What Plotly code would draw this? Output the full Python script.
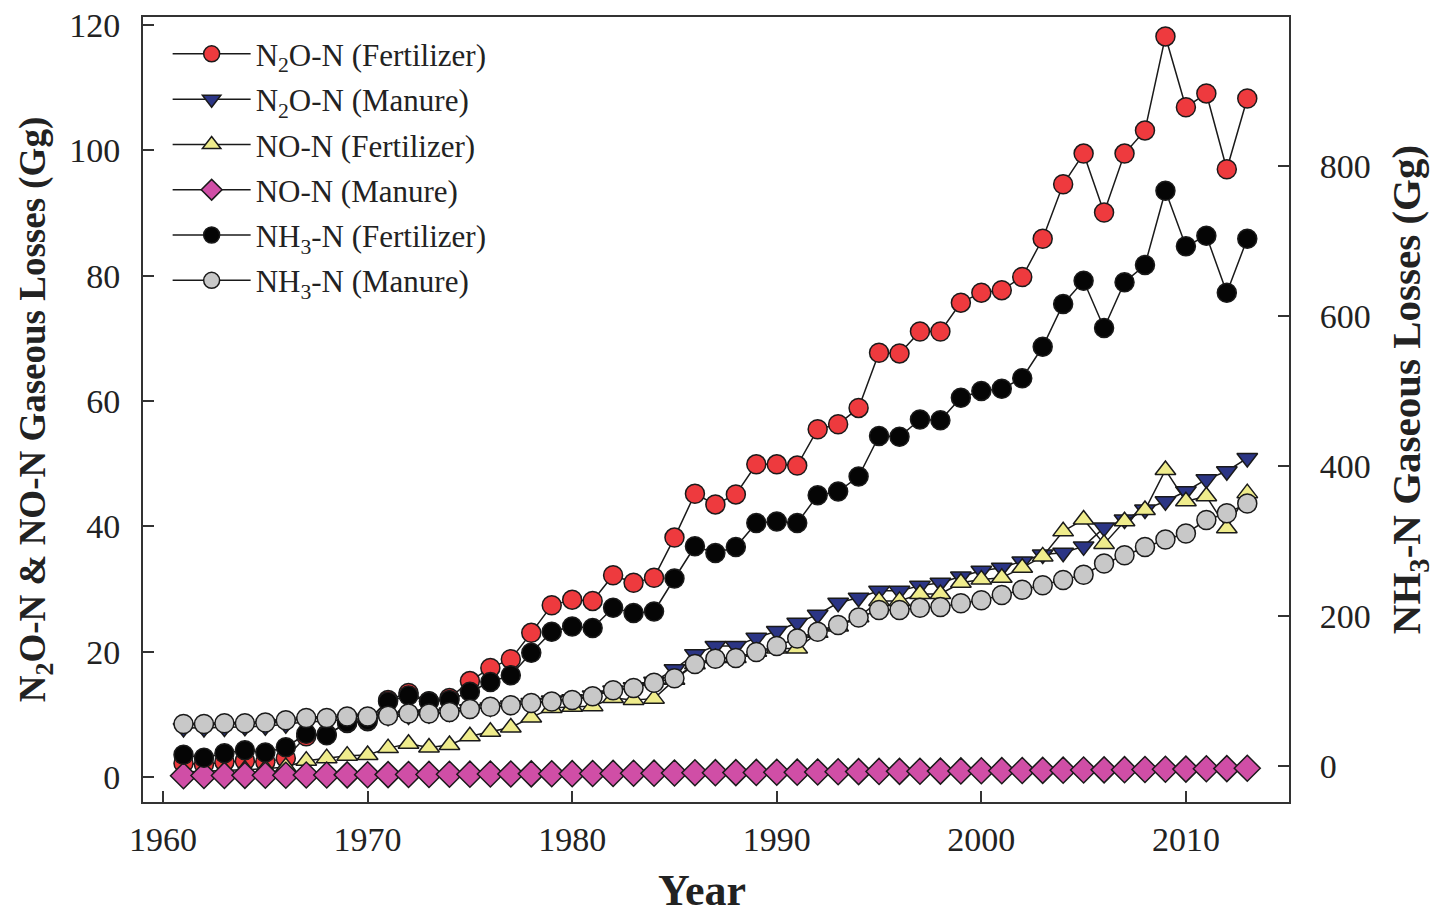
import plotly.graph_objects as go

years = list(range(1961, 2014))

n2o_fert = [2.2, 2.0, 2.4, 2.6, 2.4, 3.0, 6.5, 6.8, 8.6, 8.9, 12.3, 13.4, 12.1, 12.6, 15.3,
            17.4, 18.8, 23.0, 27.4, 28.3, 28.1, 32.2, 31.0, 31.8, 38.2, 45.2, 43.5, 45.1, 49.9, 49.9,
            49.7, 55.5, 56.3, 58.9, 67.7, 67.6, 71.1, 71.1, 75.7, 77.3, 77.7, 79.8, 85.9, 94.6,
            99.5, 90.1, 99.5, 103.2, 118.2, 106.9, 109.1, 97.0, 108.3]

n2o_manure = [7.8, 7.8, 7.9, 8.0, 8.1, 8.4, 8.8, 8.9, 9.2, 9.3, 9.6, 9.8, 10.0, 10.3, 10.8,
              11.1, 11.4, 11.8, 12.2, 12.4, 13.0, 13.8, 14.3, 15.2, 17.2, 19.6, 20.9, 20.9, 22.2, 23.3,
              24.6, 25.9, 27.8, 28.6, 29.7, 29.7, 30.5, 31.0, 32.0, 32.9, 33.4, 34.4, 35.5, 35.8,
              36.8, 39.8, 41.1, 42.7, 44.0, 45.6, 47.5, 48.8, 50.9]

no_fert = [0.8, 0.9, 1.0, 1.2, 1.3, 1.6, 2.6, 3.0, 3.4, 3.5, 4.6, 5.3, 4.7, 5.1, 6.5,
           7.2, 7.9, 9.5, 11.0, 11.2, 11.3, 12.6, 12.3, 12.5, 15.5, 18.0, 19.0, 19.0, 20.0, 20.5,
           20.5, 23.0, 24.0, 25.5, 28.1, 28.1, 29.2, 29.2, 31.0, 31.5, 31.8, 33.4, 35.2, 39.2,
           41.1, 37.2, 40.8, 42.6, 49.0, 44.0, 44.8, 39.7, 45.3]

no_manure = [0.20, 0.22, 0.23, 0.25, 0.26, 0.28, 0.30, 0.31, 0.33, 0.35, 0.37, 0.39, 0.40, 0.42, 0.44,
             0.46, 0.47, 0.49, 0.51, 0.52, 0.54, 0.56, 0.58, 0.60, 0.63, 0.66, 0.68, 0.69, 0.72, 0.74,
             0.76, 0.79, 0.82, 0.85, 0.88, 0.89, 0.91, 0.93, 0.96, 0.98, 1.00, 1.02, 1.05, 1.08,
             1.10, 1.13, 1.16, 1.19, 1.22, 1.25, 1.30, 1.33, 1.38]

nh3_fert = [15, 11, 17, 21, 18, 25, 43, 41, 58, 61, 86, 94, 86, 88, 99,
            112, 121, 151, 179, 186, 184, 211, 204, 206, 250, 293, 284, 292, 324, 326,
            324, 361, 366, 386, 440, 439, 462, 461, 491, 500, 503, 517, 559, 616,
            647, 584, 645, 668, 767, 693, 707, 631, 703]

nh3_manure = [56, 56, 57, 57, 58, 61, 64, 64, 66, 66, 67, 70, 70, 72, 76,
              79, 81, 84, 86, 88, 93, 101, 104, 111, 117, 136, 143, 144, 152, 160,
              170, 179, 188, 198, 208, 208, 211, 212, 217, 221, 228, 235, 241, 248,
              255, 270, 281, 292, 302, 310, 328, 337, 350]

x_ticks = [1960, 1970, 1980, 1990, 2000, 2010]
left_ticks = [0, 20, 40, 60, 80, 100, 120]
right_ticks = [0, 200, 400, 600, 800]

FONT = "Liberation Serif"
EDGE = "#1a1a1a"

series = [
    ("N<sub>2</sub>O-N (Fertilizer)", n2o_fert, "circle", "#ee3a3e", "y"),
    ("N<sub>2</sub>O-N (Manure)", n2o_manure, "triangle-down", "#2b3585", "y"),
    ("NO-N (Fertilizer)", no_fert, "triangle-up", "#efec8c", "y"),
    ("NO-N (Manure)", no_manure, "diamond", "#d04ea6", "y"),
    ("NH<sub>3</sub>-N (Fertilizer)", nh3_fert, "circle", "#050505", "y2"),
    ("NH<sub>3</sub>-N (Manure)", nh3_manure, "circle", "#c8c8c8", "y2"),
]

fig = go.Figure()
for i, (name, vals, sym, col, ax) in enumerate(series):
    size = 19 if sym == "circle" else (20 if sym == "diamond" else 18)
    fig.add_trace(go.Scatter(
        x=years, y=vals, name=name, yaxis=ax, mode="lines+markers",
        legendgroup=f"g{i}",
        line=dict(color=EDGE, width=1.5),
        marker=dict(symbol=sym, size=size, color=col, line=dict(color=EDGE, width=1.5)),
    ))

axis_common = dict(ticks="inside", ticklen=11, tickwidth=1.5, tickcolor="#333",
                   showline=True, linecolor="#333", linewidth=2,
                   showgrid=False, zeroline=False, automargin=False)

fig.update_layout(
    width=1441, height=920,
    margin=dict(l=143, r=152, t=17, b=118),
    paper_bgcolor="white", plot_bgcolor="white",
    font=dict(family=FONT, size=34, color="#222"),
    showlegend=True,
    legend=dict(
        x=0.0215, y=0.987, xanchor="left", yanchor="top",
        bgcolor="rgba(0,0,0,0)", font=dict(family=FONT, size=31, color="#222"),
        tracegroupgap=2, itemwidth=78,
    ),
    xaxis=dict(
        range=[1959.02, 2015.04], tickvals=x_ticks, mirror=True, ticklabelstandoff=6,
        **axis_common,
    ),
    yaxis=dict(
        range=[-4.0, 121.3], tickvals=left_ticks, ticklabelstandoff=14,
        title=dict(text="<b>N<sub>2</sub>O-N &amp; NO-N Gaseous Losses (Gg)</b>",
                   font=dict(family=FONT, size=37, color="#222"), standoff=12),
        **axis_common,
    ),
    yaxis2=dict(
        range=[-48, 998.7], tickvals=right_ticks, overlaying="y", side="right",
        ticklabelstandoff=22,
        **axis_common,
    ),
    annotations=[
        dict(
            text="<b>Year</b>", xref="paper", yref="paper", x=0.4878, y=-0.1465,
            xanchor="center", yanchor="bottom", showarrow=False,
            font=dict(family=FONT, size=44, color="#222"),
        ),
        dict(
            text="<b>NH<sub>3</sub>-N Gaseous Losses (Gg)</b>", xref="paper", yref="paper",
            x=1.1048, y=0.5248, xanchor="center", yanchor="middle", textangle=-90,
            showarrow=False, font=dict(family=FONT, size=41, color="#222"),
        ),
    ],
)

fig.write_html(
    "out.html",
    config={"displayModeBar": False},
    post_script="document.body.style.margin='0px';document.body.style.overflow='hidden';",
)
